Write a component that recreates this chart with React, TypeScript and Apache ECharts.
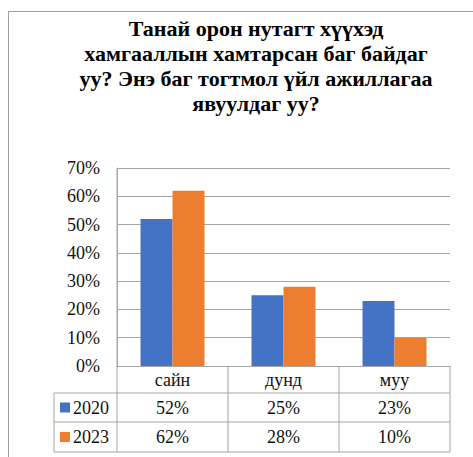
import React, { useEffect, useRef } from "react";
import * as echarts from "echarts";

const titleLines = [
  "Танай орон нутагт хүүхэд",
  "хамгааллын хамтарсан баг байдаг",
  "уу? Энэ баг тогтмол үйл ажиллагаа",
  "явуулдаг уу?",
];
const categories = ["сайн", "дунд", "муу"];
const seriesNames = ["2020", "2023"];
const values2020 = [0.52, 0.25, 0.23];
const values2023 = [0.62, 0.28, 0.1];
const seriesColors = ["#4472C4", "#ED7D31"];

const FONT = "'Liberation Serif', 'Times New Roman', serif";
const W = 473;
const H = 457;
const GRID = { left: 117, right: 450, top: 168, bottom: 366 };
const ROW_BOTTOMS = [393, 422, 452];
const TABLE_LEFT = 54;
const LINE = "#A6A6A6";
const TEXT = "#111";
const LABEL_SIZE = 18;

const pct = (v: number) => `${Math.round(v * 100)}%`;

export default function App() {
  const ref = useRef<HTMLDivElement>(null);
  useEffect(() => {
    document.body.style.margin = "0";
    const chart = echarts.init(ref.current!, null, { renderer: "svg" });
    const seriesData = [values2020, values2023];
    chart.setOption({
      animation: false,
      backgroundColor: "#fff",
      textStyle: { fontFamily: FONT },
      title: {
        text: titleLines.join("\n"),
        left: 256,
        textAlign: "center",
        top: 16,
        padding: 0,
        textStyle: {
          fontFamily: FONT,
          fontSize: 22,
          fontWeight: "bold",
          color: "#000",
          lineHeight: 25,
        },
      },
      grid: {
        left: GRID.left,
        right: W - GRID.right,
        top: GRID.top,
        bottom: H - GRID.bottom,
        containLabel: false,
      },
      xAxis: {
        type: "category",
        data: categories,
        axisLine: { show: true, lineStyle: { color: LINE, width: 1 } },
        axisTick: { show: false },
        axisLabel: { show: false },
      },
      yAxis: {
        type: "value",
        min: 0,
        max: 0.7,
        interval: 0.1,
        axisLine: { show: true, lineStyle: { color: LINE, width: 1 } },
        axisTick: { show: false },
        splitLine: { show: true, lineStyle: { color: LINE, width: 1 } },
        axisLabel: {
          formatter: (v: number) => pct(v),
          fontFamily: FONT,
          fontSize: LABEL_SIZE,
          color: TEXT,
          margin: 17,
        },
      },
      series: seriesData.map((d, i) => ({
        name: seriesNames[i],
        type: "bar",
        data: d,
        barWidth: 32,
        barGap: "0%",
        itemStyle: { color: seriesColors[i] },
      })),
    });

    // Data table below the plot, aligned with the category axis.
    const catX = categories.map(
      (c) => chart.convertToPixel({ xAxisIndex: 0 }, c) as number
    );
    const half = (GRID.right - GRID.left) / categories.length / 2;
    const bounds = [GRID.left, ...catX.map((x) => x + half)];
    const lineStyle = { stroke: LINE, lineWidth: 1 };
    const g: any[] = [];
    g.push({
      type: "rect",
      shape: { x: 8.5, y: 11.5, width: W + 10, height: H + 10 },
      style: { fill: "none", stroke: "#A0A0A0", lineWidth: 1 },
      z: -1,
    });
    bounds.forEach((x, i) => {
      g.push({
        type: "line",
        shape: { x1: x, y1: i === 0 ? GRID.top : GRID.bottom, x2: x, y2: ROW_BOTTOMS[2] },
        style: lineStyle,
      });
    });
    g.push({
      type: "line",
      shape: { x1: TABLE_LEFT, y1: ROW_BOTTOMS[0], x2: TABLE_LEFT, y2: ROW_BOTTOMS[2] },
      style: lineStyle,
    });
    ROW_BOTTOMS.forEach((y) => {
      g.push({
        type: "line",
        shape: { x1: TABLE_LEFT, y1: y, x2: GRID.right, y2: y },
        style: lineStyle,
      });
    });
    const textEl = (x: number, y: number, t: string, align = "center") => ({
      type: "text",
      x,
      y,
      style: {
        text: t,
        fontFamily: FONT,
        fontSize: LABEL_SIZE,
        fill: TEXT,
        align,
        verticalAlign: "middle",
      },
    });
    const rowTops = [GRID.bottom, ...ROW_BOTTOMS.slice(0, 2)];
    const rowMid = rowTops.map((t, i) => (t + ROW_BOTTOMS[i]) / 2);
    categories.forEach((c, i) => g.push(textEl(catX[i], rowMid[0], c)));
    seriesData.forEach((d, s) => {
      const y = rowMid[s + 1];
      g.push({
        type: "rect",
        shape: { x: 60, y: y - 5, width: 10, height: 10 },
        style: { fill: seriesColors[s] },
      });
      g.push(textEl(73, y, seriesNames[s], "left"));
      d.forEach((v, i) => g.push(textEl(catX[i], y, pct(v))));
    });
    chart.setOption({ graphic: g });

    return () => chart.dispose();
  }, []);
  return <div ref={ref} style={{ width: W, height: H }} />;
}
